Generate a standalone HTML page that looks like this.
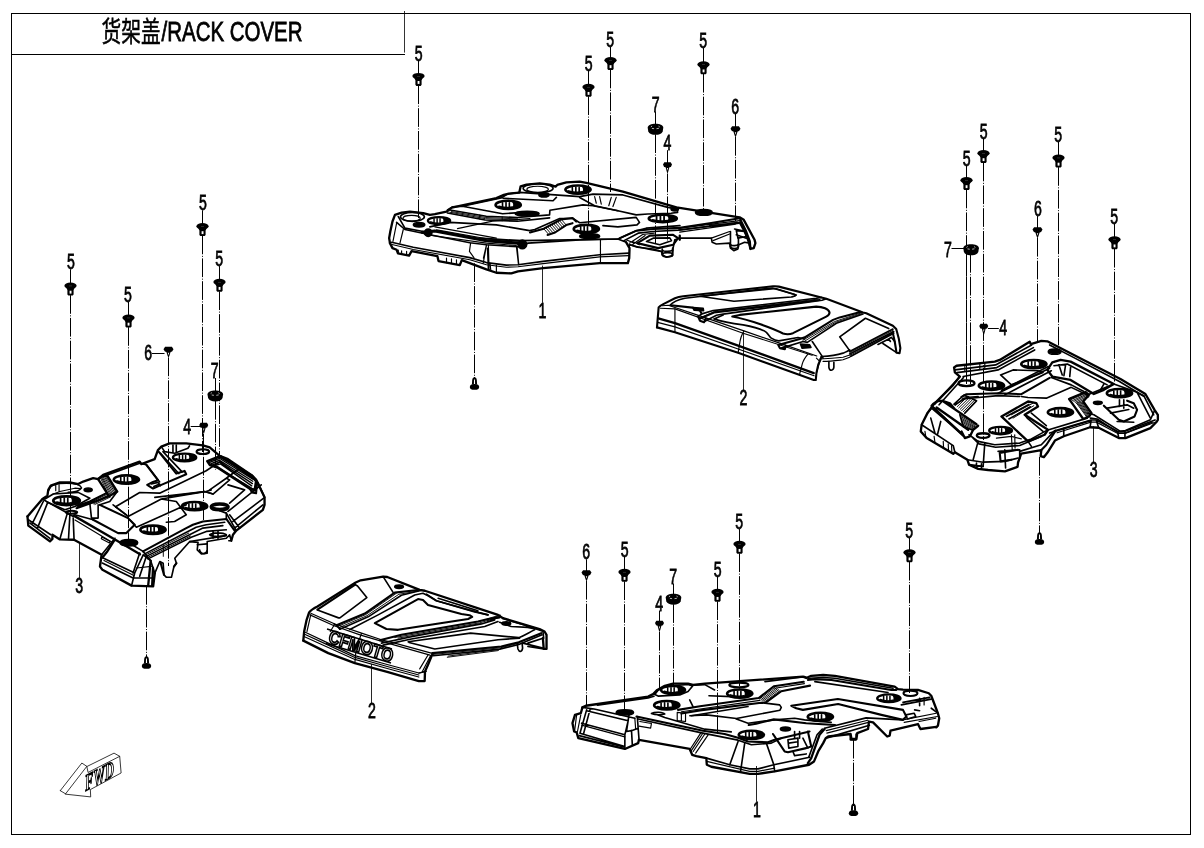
<!DOCTYPE html>
<html><head><meta charset="utf-8"><title>RACK COVER</title>
<style>
html,body{margin:0;padding:0;background:#fff;}
body{width:1204px;height:848px;overflow:hidden;font-family:"Liberation Sans",sans-serif;}
svg{display:block;position:absolute;left:0;top:0;will-change:transform;}
svg text{font-family:"Liberation Sans",sans-serif;}
.o{fill:none;stroke:#000;stroke-linejoin:round;stroke-linecap:round;}
</style></head><body>
<svg width="1204" height="848" viewBox="0 0 1204 848">
<rect x="0" y="0" width="1204" height="848" fill="#fff"/>

<defs>
<g id="b5"><ellipse cx="0" cy="3.3" rx="6.1" ry="3.2" fill="#000"/><path d="M-4.6,4.5 L4.6,4.5 L3.1,7.5 L3.1,12 L2.2,13.1 L-2.2,13.1 L-3.1,12 L-3.1,7.5 Z" fill="#000"/><rect x="-0.9" y="8.2" width="1.9" height="2.9" fill="#fff"/><rect x="-1.5" y="3.2" width="3" height="0.5" fill="#555"/></g>
<g id="s4"><path d="M-3.2,0.2 L3.2,0.2 L4.5,2.4 L3.4,4.8 L1.9,5.2 L0.9,9 L0,12 L-0.9,9 L-1.9,5.2 L-3.4,4.8 L-4.5,2.4 Z" fill="#000"/><path d="M-0.6,6 L0.6,6 L0,8.5 Z" fill="#fff"/></g>
<g id="s6"><path d="M-3.4,0.2 L3.4,0.2 L5,2.6 L3.6,5 L2.1,5.4 L1,9 L0,11.4 L-1,9 L-2.1,5.4 L-3.6,5 L-5,2.6 Z" fill="#000"/><path d="M-0.7,6.2 L0.7,6.2 L0,8.6 Z" fill="#fff"/></g>
<g id="n7"><path d="M-7.8,4 C-7.8,1.4 -4,0 0,0 C4,0 7.8,1.4 7.8,4 L7.2,7.6 C6.4,9.9 3.5,11 0,11 C-3.5,11 -6.4,9.9 -7.2,7.6 Z" fill="#000"/><path d="M-4.6,3.1 L-3.4,2.2 M3,2.3 L4.3,3.2 M-3.6,4.6 L-1.4,4.9 M1,4.9 L3.4,4.5" stroke="#fff" stroke-width="0.7" fill="none"/></g>
<g id="su"><path d="M0,0 C1.3,0.4 2.2,1.6 2.3,3 L2.6,7.4 L-2.6,7.4 L-2.3,3 C-2.2,1.6 -1.3,0.4 0,0 Z" fill="#000"/><ellipse cx="0" cy="9.9" rx="4.7" ry="2.9" fill="#000"/><path d="M-0.45,2.6 L0.45,2.6 L0.6,7 L-0.6,7 Z" fill="#fff"/></g>
</defs>

<g fill="none" stroke="#000" stroke-width="1.1" shape-rendering="crispEdges">
<rect x="11.5" y="13.5" width="1179" height="821"/>
<path d="M11.5,54.5 H405"/>
</g>
<path d="M404.5,11 V52.6" stroke="#000" stroke-width="0.8" fill="none"/>
<text transform="translate(101.50,42.40) scale(0.705,1)" font-size="28" fill="#000" stroke="#000" stroke-width="0.5" style="font-family:'Liberation Sans','Noto Sans CJK SC',sans-serif">货架盖</text>
<text transform="translate(161.52,41.40) scale(0.731,1)" font-size="28" stroke="#000" stroke-width="0.8">/RACK COVER</text>
<text transform="translate(418.60,60.55) scale(0.66,1)" font-size="21.4" text-anchor="middle" stroke="#000" stroke-width="0.75">5</text>
<path d="M418.50,60.40 V73.80" stroke="#000" stroke-width="1.00" fill="none"/>
<use href="#b5" x="418.50" y="72.80"/>
<path d="M418.50,85.40 V224.00" stroke="#000" stroke-width="1" stroke-dasharray="18.7 1.55 1 1.55" stroke-dashoffset="0.0" fill="none"/>
<text transform="translate(588.75,70.70) scale(0.66,1)" font-size="21.4" text-anchor="middle" stroke="#000" stroke-width="0.75">5</text>
<path d="M588.50,70.55 V84.75" stroke="#000" stroke-width="1.00" fill="none"/>
<use href="#b5" x="588.50" y="83.75"/>
<path d="M588.50,96.35 V238.00" stroke="#000" stroke-width="1" stroke-dasharray="18.7 1.55 1 1.55" stroke-dashoffset="0.0" fill="none"/>
<text transform="translate(610.25,46.95) scale(0.66,1)" font-size="21.4" text-anchor="middle" stroke="#000" stroke-width="0.75">5</text>
<path d="M610.50,46.80 V58.00" stroke="#000" stroke-width="1.00" fill="none"/>
<use href="#b5" x="610.50" y="57.00"/>
<path d="M610.50,69.60 V192.00" stroke="#000" stroke-width="1" stroke-dasharray="18.7 1.55 1 1.55" stroke-dashoffset="0.0" fill="none"/>
<text transform="translate(655.80,112.15) scale(0.66,1)" font-size="21.4" text-anchor="middle" stroke="#000" stroke-width="0.75">7</text>
<path d="M655.50,112.00 V124.80" stroke="#000" stroke-width="1.00" fill="none"/>
<use href="#n7" x="655.50" y="123.80"/>
<path d="M655.50,134.30 V243.00" stroke="#000" stroke-width="1" stroke-dasharray="18.7 1.55 1 1.55" stroke-dashoffset="0.0" fill="none"/>
<text transform="translate(667.40,150.35) scale(0.66,1)" font-size="21.4" text-anchor="middle" stroke="#000" stroke-width="0.75">4</text>
<path d="M667.50,150.20 V163.10" stroke="#000" stroke-width="1.00" fill="none"/>
<use href="#s4" x="667.50" y="162.10"/>
<path d="M667.50,173.60 V241.00" stroke="#000" stroke-width="1" stroke-dasharray="18.7 1.55 1 1.55" stroke-dashoffset="0.0" fill="none"/>
<text transform="translate(703.20,47.95) scale(0.66,1)" font-size="21.4" text-anchor="middle" stroke="#000" stroke-width="0.75">5</text>
<path d="M703.50,47.80 V62.25" stroke="#000" stroke-width="1.00" fill="none"/>
<use href="#b5" x="703.50" y="61.25"/>
<path d="M703.50,73.85 V210.00" stroke="#000" stroke-width="1" stroke-dasharray="18.7 1.55 1 1.55" stroke-dashoffset="0.0" fill="none"/>
<text transform="translate(735.10,113.95) scale(0.66,1)" font-size="21.4" text-anchor="middle" stroke="#000" stroke-width="0.75">6</text>
<path d="M735.50,113.80 V127.10" stroke="#000" stroke-width="1.00" fill="none"/>
<use href="#s6" x="735.50" y="126.10"/>
<path d="M735.50,137.00 V221.00" stroke="#000" stroke-width="1" stroke-dasharray="18.7 1.55 1 1.55" stroke-dashoffset="0.0" fill="none"/>
<text transform="translate(983.60,138.70) scale(0.66,1)" font-size="21.4" text-anchor="middle" stroke="#000" stroke-width="0.75">5</text>
<path d="M983.50,138.55 V151.00" stroke="#000" stroke-width="1.00" fill="none"/>
<use href="#b5" x="983.50" y="150.00"/>
<path d="M983.50,162.60 V440.00" stroke="#000" stroke-width="1" stroke-dasharray="18.7 1.55 1 1.55" stroke-dashoffset="0.0" fill="none"/>
<text transform="translate(966.70,165.70) scale(0.66,1)" font-size="21.4" text-anchor="middle" stroke="#000" stroke-width="0.75">5</text>
<path d="M966.50,165.55 V178.00" stroke="#000" stroke-width="1.00" fill="none"/>
<use href="#b5" x="966.50" y="177.00"/>
<path d="M966.50,189.60 V384.00" stroke="#000" stroke-width="1" stroke-dasharray="18.7 1.55 1 1.55" stroke-dashoffset="0.0" fill="none"/>
<text transform="translate(1058.10,141.95) scale(0.66,1)" font-size="21.4" text-anchor="middle" stroke="#000" stroke-width="0.75">5</text>
<path d="M1058.50,141.80 V155.50" stroke="#000" stroke-width="1.00" fill="none"/>
<use href="#b5" x="1058.50" y="154.50"/>
<path d="M1058.50,167.10 V350.00" stroke="#000" stroke-width="1" stroke-dasharray="18.7 1.55 1 1.55" stroke-dashoffset="0.0" fill="none"/>
<text transform="translate(1037.90,216.20) scale(0.66,1)" font-size="21.4" text-anchor="middle" stroke="#000" stroke-width="0.75">6</text>
<path d="M1037.50,216.05 V228.00" stroke="#000" stroke-width="1.00" fill="none"/>
<use href="#s6" x="1037.50" y="227.00"/>
<path d="M1037.50,237.90 V342.00" stroke="#000" stroke-width="1" stroke-dasharray="18.7 1.55 1 1.55" stroke-dashoffset="0.0" fill="none"/>
<text transform="translate(1114.10,223.70) scale(0.66,1)" font-size="21.4" text-anchor="middle" stroke="#000" stroke-width="0.75">5</text>
<path d="M1114.50,223.55 V237.25" stroke="#000" stroke-width="1.00" fill="none"/>
<use href="#b5" x="1114.50" y="236.25"/>
<path d="M1114.50,248.85 V383.00" stroke="#000" stroke-width="1" stroke-dasharray="18.7 1.55 1 1.55" stroke-dashoffset="0.0" fill="none"/>
<text transform="translate(70.90,269.45) scale(0.66,1)" font-size="21.4" text-anchor="middle" stroke="#000" stroke-width="0.75">5</text>
<path d="M70.50,269.30 V283.50" stroke="#000" stroke-width="1.00" fill="none"/>
<use href="#b5" x="70.50" y="282.50"/>
<path d="M70.50,295.10 V513.00" stroke="#000" stroke-width="1" stroke-dasharray="18.7 1.55 1 1.55" stroke-dashoffset="0.0" fill="none"/>
<text transform="translate(128.00,301.95) scale(0.66,1)" font-size="21.4" text-anchor="middle" stroke="#000" stroke-width="0.75">5</text>
<path d="M128.50,301.80 V315.50" stroke="#000" stroke-width="1.00" fill="none"/>
<use href="#b5" x="128.50" y="314.50"/>
<path d="M128.50,327.10 V541.00" stroke="#000" stroke-width="1" stroke-dasharray="18.7 1.55 1 1.55" stroke-dashoffset="0.0" fill="none"/>
<text transform="translate(202.90,210.45) scale(0.66,1)" font-size="21.4" text-anchor="middle" stroke="#000" stroke-width="0.75">5</text>
<path d="M202.50,210.30 V224.00" stroke="#000" stroke-width="1.00" fill="none"/>
<use href="#b5" x="202.50" y="223.00"/>
<path d="M202.50,235.60 V452.00" stroke="#000" stroke-width="1" stroke-dasharray="18.7 1.55 1 1.55" stroke-dashoffset="0.0" fill="none"/>
<text transform="translate(219.30,266.20) scale(0.66,1)" font-size="21.4" text-anchor="middle" stroke="#000" stroke-width="0.75">5</text>
<path d="M219.50,266.05 V279.75" stroke="#000" stroke-width="1.00" fill="none"/>
<use href="#b5" x="219.50" y="278.75"/>
<path d="M219.50,291.35 V458.00" stroke="#000" stroke-width="1" stroke-dasharray="18.7 1.55 1 1.55" stroke-dashoffset="0.0" fill="none"/>
<text transform="translate(586.25,559.45) scale(0.66,1)" font-size="21.4" text-anchor="middle" stroke="#000" stroke-width="0.75">6</text>
<path d="M586.50,559.30 V571.00" stroke="#000" stroke-width="1.00" fill="none"/>
<use href="#s6" x="586.50" y="570.00"/>
<path d="M586.50,580.90 V706.00" stroke="#000" stroke-width="1" stroke-dasharray="18.7 1.55 1 1.55" stroke-dashoffset="0.0" fill="none"/>
<text transform="translate(624.80,556.70) scale(0.66,1)" font-size="21.4" text-anchor="middle" stroke="#000" stroke-width="0.75">5</text>
<path d="M624.50,556.55 V569.75" stroke="#000" stroke-width="1.00" fill="none"/>
<use href="#b5" x="624.50" y="568.75"/>
<path d="M624.50,581.35 V710.00" stroke="#000" stroke-width="1" stroke-dasharray="18.7 1.55 1 1.55" stroke-dashoffset="0.0" fill="none"/>
<text transform="translate(673.20,583.70) scale(0.66,1)" font-size="21.4" text-anchor="middle" stroke="#000" stroke-width="0.75">7</text>
<path d="M673.50,583.55 V594.75" stroke="#000" stroke-width="1.00" fill="none"/>
<use href="#n7" x="673.50" y="593.75"/>
<path d="M673.50,604.25 V686.00" stroke="#000" stroke-width="1" stroke-dasharray="18.7 1.55 1 1.55" stroke-dashoffset="0.0" fill="none"/>
<text transform="translate(659.10,610.70) scale(0.66,1)" font-size="21.4" text-anchor="middle" stroke="#000" stroke-width="0.75">4</text>
<path d="M659.50,610.55 V621.50" stroke="#000" stroke-width="1.00" fill="none"/>
<use href="#s4" x="659.50" y="620.50"/>
<path d="M659.50,632.00 V690.00" stroke="#000" stroke-width="1" stroke-dasharray="18.7 1.55 1 1.55" stroke-dashoffset="0.0" fill="none"/>
<text transform="translate(717.75,576.95) scale(0.66,1)" font-size="21.4" text-anchor="middle" stroke="#000" stroke-width="0.75">5</text>
<path d="M717.50,576.80 V589.75" stroke="#000" stroke-width="1.00" fill="none"/>
<use href="#b5" x="717.50" y="588.75"/>
<path d="M717.50,601.35 V735.00" stroke="#000" stroke-width="1" stroke-dasharray="18.7 1.55 1 1.55" stroke-dashoffset="0.0" fill="none"/>
<text transform="translate(739.30,529.20) scale(0.66,1)" font-size="21.4" text-anchor="middle" stroke="#000" stroke-width="0.75">5</text>
<path d="M739.50,529.05 V541.75" stroke="#000" stroke-width="1.00" fill="none"/>
<use href="#b5" x="739.50" y="540.75"/>
<path d="M739.50,553.35 V690.00" stroke="#000" stroke-width="1" stroke-dasharray="18.7 1.55 1 1.55" stroke-dashoffset="0.0" fill="none"/>
<text transform="translate(909.30,537.95) scale(0.66,1)" font-size="21.4" text-anchor="middle" stroke="#000" stroke-width="0.75">5</text>
<path d="M909.50,537.80 V550.25" stroke="#000" stroke-width="1.00" fill="none"/>
<use href="#b5" x="909.50" y="549.25"/>
<path d="M909.50,561.85 V693.00" stroke="#000" stroke-width="1" stroke-dasharray="18.7 1.55 1 1.55" stroke-dashoffset="0.0" fill="none"/>
<text transform="translate(948.00,257.45) scale(0.66,1)" font-size="21.4" text-anchor="middle" stroke="#000" stroke-width="0.75">7</text>
<path d="M951.50,248.50 H965.00" stroke="#000" stroke-width="1.00" fill="none"/>
<use href="#n7" x="971.1" y="244.3"/>
<path d="M966.50,254.00 V384.00" stroke="#000" stroke-width="1" stroke-dasharray="18.7 1.55 1 1.55" stroke-dashoffset="0.0" fill="none"/>
<path d="M970.50,254.00 V384.00" stroke="#000" stroke-width="1" stroke-dasharray="18.7 1.55 1 1.55" stroke-dashoffset="0.0" fill="none"/>
<text transform="translate(1003.25,334.85) scale(0.66,1)" font-size="21.4" text-anchor="middle" stroke="#000" stroke-width="0.75">4</text>
<path d="M988.00,328.50 H998.80" stroke="#000" stroke-width="1.00" fill="none"/>
<use href="#s4" x="983.75" y="323.6"/>
<text transform="translate(148.25,359.95) scale(0.66,1)" font-size="21.4" text-anchor="middle" stroke="#000" stroke-width="0.75">6</text>
<path d="M152.00,353.50 H164.50" stroke="#000" stroke-width="1.00" fill="none"/>
<use href="#s6" x="168.5" y="346.6"/>
<path d="M168.50,357.50 V566.00" stroke="#000" stroke-width="1" stroke-dasharray="18.7 1.55 1 1.55" stroke-dashoffset="0.0" fill="none"/>
<text transform="translate(214.75,378.20) scale(0.66,1)" font-size="21.4" text-anchor="middle" stroke="#000" stroke-width="0.75">7</text>
<path d="M215.50,378.00 V391.00" stroke="#000" stroke-width="1.00" fill="none"/>
<use href="#n7" x="215.3" y="390.4"/>
<path d="M215.50,401.00 V470.00" stroke="#000" stroke-width="1" stroke-dasharray="18.7 1.55 1 1.55" stroke-dashoffset="0.0" fill="none"/>
<text transform="translate(187.25,433.70) scale(0.66,1)" font-size="21.4" text-anchor="middle" stroke="#000" stroke-width="0.75">4</text>
<path d="M190.70,426.50 H200.00" stroke="#000" stroke-width="1.00" fill="none"/>
<use href="#s4" x="203.75" y="422.6"/>
<path d="M203.50,434.00 V520.00" stroke="#000" stroke-width="1" stroke-dasharray="18.7 1.55 1 1.55" stroke-dashoffset="0.0" fill="none"/>
<text transform="translate(542.40,318.00) scale(0.66,1)" font-size="21.4" text-anchor="middle" stroke="#000" stroke-width="0.75">1</text>
<path d="M542.50,265.60 V302.80" stroke="#000" stroke-width="0.85" fill="none"/>
<text transform="translate(743.50,405.45) scale(0.66,1)" font-size="21.4" text-anchor="middle" stroke="#000" stroke-width="0.75">2</text>
<path d="M743.50,332.50 V390.80" stroke="#000" stroke-width="0.85" fill="none"/>
<text transform="translate(371.90,717.95) scale(0.66,1)" font-size="21.4" text-anchor="middle" stroke="#000" stroke-width="0.75">2</text>
<path d="M371.50,664.00 V703.30" stroke="#000" stroke-width="0.85" fill="none"/>
<text transform="translate(756.90,817.00) scale(0.66,1)" font-size="21.4" text-anchor="middle" stroke="#000" stroke-width="0.75">1</text>
<path d="M756.50,766.00 V801.80" stroke="#000" stroke-width="0.85" fill="none"/>
<text transform="translate(1093.80,477.45) scale(0.66,1)" font-size="21.4" text-anchor="middle" stroke="#000" stroke-width="0.75">3</text>
<path d="M1093.50,426.30 V462.80" stroke="#000" stroke-width="0.85" fill="none"/>
<text transform="translate(79.30,592.95) scale(0.66,1)" font-size="21.4" text-anchor="middle" stroke="#000" stroke-width="0.75">3</text>
<path d="M79.50,542.50 V578.30" stroke="#000" stroke-width="0.85" fill="none"/>
<use href="#su" x="474.50" y="377.00"/>
<path d="M474.50,263.30 V378.00" stroke="#000" stroke-width="1" stroke-dasharray="18.7 1.55 1 1.55" stroke-dashoffset="0.0" fill="none"/>
<use href="#su" x="146.50" y="656.00"/>
<path d="M146.50,586.00 V657.00" stroke="#000" stroke-width="1" stroke-dasharray="18.7 1.55 1 1.55" stroke-dashoffset="0.0" fill="none"/>
<use href="#su" x="1039.50" y="532.00"/>
<path d="M1039.50,457.00 V533.00" stroke="#000" stroke-width="1" stroke-dasharray="18.7 1.55 1 1.55" stroke-dashoffset="0.0" fill="none"/>
<use href="#su" x="853.50" y="803.30"/>
<path d="M853.50,739.80 V804.30" stroke="#000" stroke-width="1" stroke-dasharray="18.7 1.55 1 1.55" stroke-dashoffset="0.0" fill="none"/>
<!-- p1bot.svg -->
<g transform="translate(565,665) scale(0.16625)" class="o" stroke-width="9.8">
<!-- silhouette back -->
<path stroke-width="14.0" d="M105,255 L125,245 L500,190 L530,175 L555,150 L600,125 L650,112 L740,112 L770,120 L841,112 L1431,70 L1451,78 L1481,65 L1553,60 L1623,65 L1983,130 L2003,145 L2033,148 L2123,150 L2188,170 L2203,185 L2243,290 L2251,320 L2243,365 L2233,375"/>
<!-- left block -->
<path stroke-width="14.0" d="M105,255 L95,290 L60,300 L45,350 L55,400 L70,405 L80,440 L360,505 L440,470 L445,450"/>
<path d="M130,270 L90,410 L360,490 M105,255 L175,265 L420,320 M130,275 L380,335 M150,270 L112,412 M100,350 L360,420 M85,425 L360,495 M360,420 L360,505 M385,300 L370,400 L400,395 L440,380 L435,310 M400,395 L405,480 M440,380 L445,445 M380,335 L360,420"/>
<path stroke-width="7.0" d="M95,300 L75,400 M70,300 L58,395 M100,362 L360,432 M420,320 L425,385"/>
<!-- bottom edge -->
<path stroke-width="14.0" d="M445,450 L750,505 L765,540 L790,548 L850,560 L853,600 L880,612 L1111,655 L1161,655 L1261,640 L1468,600 L1498,580 L1523,520 L1553,470 L1568,440 L1583,430 L1718,415 L1723,445 L1753,445 L1758,410 L1823,385 L1828,340 L1853,345 L1938,430 L1953,425 L1958,395 L2123,355 L2138,385 L2233,372"/>
<!-- front face -->
<path stroke-width="12.6" d="M430,310 L830,395 L960,415 L1040,438 L1101,460 L1221,465 L1261,450 L1471,400"/>
<path d="M440,325 L822,408 L1041,452 L1121,480 L1241,470 L1301,440"/>
<path stroke-width="7.0" d="M450,340 L520,352 L515,380 L445,368 M816,410 L751,510 M841,415 L771,520 M861,420 L786,530 M828,412 L760,515"/>
<path d="M1041,460 L991,600 M1081,470 L1056,640 M1211,470 L1256,600 L1261,640"/>
<path d="M851,560 L991,600 L1111,625 L1161,625 L1256,600 L1471,555"/>
<path stroke-width="7.0" d="M853,580 L1111,640 L1161,640 L1261,620"/>
<!-- top surface H -->
<path d="M540,178 L560,152 L610,128 L740,117 L768,126 L740,160 L690,180 L560,187 Z"/>
<use href="#sh" x="650" y="150" transform="translate(650,150) scale(0.95) translate(-650,-150)"/>
<use href="#sh" x="612" y="242"/>
<ellipse cx="360" cy="285" rx="52" ry="16" fill="#000"/>
<path d="M520,292 C540,280 590,282 600,295 C585,300 545,302 520,292 Z"/>
<path d="M195,242 L500,198 L535,188 M560,300 L600,316 L840,386 L1000,402"/>
<path d="M760,305 L1101,250 M750,210 L770,250"/>
<path stroke-width="7.0" d="M675,285 L725,290 L725,340 L675,335 Z M700,288 V338"/>
<path d="M772,122 L841,118 L900,150 M866,185 L1001,190"/>
<!-- I view -->
<ellipse cx="1046" cy="120" rx="58" ry="14" stroke-width="12.6"/>
<use href="#sh" x="1051" y="172"/>
<path stroke-width="12.6" d="M680,270 L812,248 L1165,199 L1256,128 L1308,120 L1436,101 M700,292 L812,273 L1180,227 L1203,229 L1301,158 L1338,150 L1474,124"/>
<path stroke-width="5.6" d="M1165,199 L1256,128 M1171,204 L1264,133 M1178,209 L1271,138 M1184,214 L1278,143 M1190,219 L1286,148 M1197,224 L1294,153 M1203,229 L1301,158"/>
<path stroke-width="7.0" d="M700,281 L1172,213 M1262,140 L1440,112"/>
<path d="M1203,229 L1291,240 L1301,255 L1293,272 L1031,322 L851,300 L751,305"/>
<path d="M1031,325 L1101,350 L1261,330 L1381,320 L1441,330 L1601,345"/>
<path stroke-width="12.6" d="M1361,245 L1641,205 L2033,270 L2053,310 L2033,330 L1903,300 L1643,235 L1431,270 L1391,260 Z"/>
<use href="#sh" x="1536" y="312"/>
<use href="#sh" x="1121" y="420"/>
<ellipse cx="1326" cy="385" rx="30" ry="11" fill="#000"/>
<path stroke-width="12.6" d="M1105,361 L1150,353 L1256,327 L1451,350 L1624,361"/>
<!-- latch -->
<path stroke-width="12.6" d="M1251,415 L1321,520 L1341,525 L1451,500 L1481,490 L1461,400"/>
<path d="M1341,450 L1401,440 L1401,490 L1346,500 Z M1346,470 L1400,462 M1381,400 V440 M1411,400 V440 M1431,440 L1461,500 M1371,520 L1381,545 L1451,535"/>
<!-- notch wall -->
<path stroke-width="14.0" d="M1561,385 L1531,420 L1481,560 L1461,590"/>
<path d="M1548,385 L1516,420 L1466,555"/>
<path d="M1561,380 L1811,318 L2033,330 M1571,440 L1831,362"/>
<path stroke-width="7.0" d="M1571,395 L1821,332 M1575,410 L1825,345"/>
<path d="M1716,420 L1716,450 L1751,450 L1751,415"/>
<!-- back rail -->
<path stroke-width="12.6" d="M1461,90 L1501,85 L1603,90 L1963,150 L1993,150"/>
<path d="M1503,100 L1943,165 M1471,80 L1553,75 L1623,80 L1973,140"/>
<path d="M1203,100 L1443,70 L1473,85"/>
<!-- J region -->
<use href="#sh" x="1948" y="200" transform="translate(1948,200) scale(0.92) translate(-1948,-200)"/>
<ellipse cx="2078" cy="170" rx="42" ry="16" stroke-width="12.6"/>
<path d="M2033,225 L2193,195 M2023,240 L2203,205 M2203,260 L2243,290 M2133,200 V245 M2103,270 L2133,275 M2050,300 L2100,290 L2110,310 L2060,325 Z"/>
<path stroke-width="7.0" d="M2033,330 L2233,290 M2040,345 L2240,310 M2160,195 V240 M2130,340 L2230,320"/>
</g>

<!-- p1top.svg -->
<defs>
<g id="sh"><ellipse cx="0" cy="0" rx="76" ry="25" fill="#fff" stroke="#000" stroke-width="15.4"/><path d="M14,-25 C56,-21 76,-9 76,0 C76,9 56,21 14,25 C36,12 36,-12 14,-25 Z" fill="#000" stroke="none"/><path d="M-34,-13 V13 M-13,-14 V14 M7,-13 V13" stroke="#000" stroke-width="9.8" fill="none"/><path d="M-56,8 C-34,17 6,18 26,13" stroke="#000" stroke-width="9.8" fill="none"/></g>
</defs>
<g transform="translate(380,165) scale(0.16625)" class="o" stroke-width="9.8">
<!-- silhouette top/back -->
<path stroke-width="14.0" d="M60,470 L55,440 L62,400 L75,340 L90,300 L130,287 L180,281 L260,289 L300,300 L330,296 L400,281 L432,256 L480,246 L700,199 L745,180 L775,172 L838,166 L846,128 L881,118 L961,110 L1021,118 L1056,130 L1066,120 L1121,105 L1201,100 L1241,108 L1461,160 L1783,255 L2163,315 L2188,330 L2253,450 L2258,470 L2248,500 L2228,505 L2223,480"/>
<!-- bottom/front -->
<path stroke-width="14.0" d="M60,470 L75,500 L100,510 L108,532 L175,545 L190,518 L345,548 L352,578 L480,602 L492,572 L640,628 L700,648 L790,652 L830,640 L981,620 L1321,590 L1491,590 L1499,560 L1501,500 L1481,465"/>
<path d="M1498,490 L1503,480 L1543,490 L1633,510 L1693,520 L1698,540 L1723,555 L1758,545 L1763,500 L1773,450 L1803,440 L1993,440 L1998,465 L2023,475 L2103,470 L2108,500 L2128,515 L2153,505 L2158,480 L2193,465 L2223,470 L2228,500"/>
<!-- front face lines -->
<path stroke-width="19.6" d="M255,405 L330,397 L640,455 L830,470"/>
<path stroke-width="7.0" d="M270,418 L640,470 L820,484 M340,390 L650,445 L830,458"/>
<circle cx="290" cy="407" r="22" fill="#000"/><circle cx="856" cy="478" r="26" fill="#000"/>
<path d="M100,345 L150,388 L300,420 L540,468 L640,480 L830,492 L891,470 L1201,450 L1431,445 L1481,465"/>
<path d="M70,465 L200,495 L540,557 L640,587 L760,602 L830,600 L981,580 L1321,540 L1496,530"/>
<path stroke-width="7.0" d="M72,478 L200,508 L540,570 L640,600 L760,615 L830,612 L981,593 L1321,553 L1496,545"/>
<path stroke-width="7.0" d="M140,388 L120,470 M100,350 L78,460 M545,470 L538,520 L565,557 M640,482 L622,560 M652,482 L656,628 M825,495 L835,600 M700,602 L700,647 M662,592 L666,630 M641,480 L621,590 M646,500 L651,630 M821,495 L833,600 M1326,450 L1326,590"/>
<path stroke-width="7.0" d="M110,512 V530 M130,516 V536 M160,520 V542 M400,560 V588 M430,565 V592 M460,570 V598"/>
<!-- top surface left -->
<path d="M110,310 L150,380 L260,400"/>
<ellipse cx="195" cy="312" rx="72" ry="27"/><ellipse cx="190" cy="320" rx="52" ry="17" stroke-width="7.0"/>
<ellipse cx="235" cy="360" rx="34" ry="13" fill="#000"/>
<use href="#sh" x="355" y="335" transform="translate(355,335) scale(0.88) translate(-355,-335)"/>
<path d="M406,271 L436,252 L496,248 L735,196 M496,248 L737,293 L902,282 M421,271 L639,308 L827,316 L1020,300 L1022,272 L1221,240 L1281,245 L1431,275 M406,289 L632,331 L827,338 L1020,318"/>
<path stroke-width="5.6" d="M430,280 L636,316 L827,324 M420,284 L634,323 L827,331 M600,300 V326 M735,312 V336"/>
<path stroke-width="7.0" d="M330,372 L700,440 M466,383 L677,338 L902,323"/>
<path d="M300,372 L420,345 L700,360 L900,395 L931,388 L1081,322 L1161,322 L1201,347 L1541,315 L1561,345 L1546,360 L1431,372 L1341,365"/>
<!-- hatched ramp -->
<path stroke-width="12.6" d="M902,406 L985,383 L1090,327 L1158,319 L1180,340 M1008,421 L1053,406 L1120,361 L1158,350"/>
<path stroke-width="5.6" d="M985,383 L1015,418 M997,377 L1027,412 M1008,371 L1038,405 M1020,364 L1050,399 M1032,358 L1062,393 M1043,352 L1073,386 M1055,346 L1085,380 M1067,339 L1097,374 M1078,333 L1108,367 M1090,327 L1120,361"/>
<!-- holes -->
<use href="#sh" x="771" y="240"/>
<ellipse cx="885" cy="293" rx="72" ry="14" fill="#000"/>
<ellipse cx="951" cy="140" rx="90" ry="27"/><ellipse cx="948" cy="146" rx="65" ry="18" stroke-width="7.0"/>
<ellipse cx="986" cy="180" rx="30" ry="12" fill="#000"/>
<use href="#sh" x="1191" y="148"/>
<use href="#sh" x="1241" y="385"/>
<ellipse cx="1261" cy="428" rx="60" ry="14" fill="#000"/>
<use href="#sh" x="1701" y="322" transform="translate(1701,322) scale(1.1,0.9) translate(-1701,-322)"/>
<ellipse cx="1948" cy="285" rx="50" ry="17" fill="#000"/>
<ellipse cx="1773" cy="265" rx="22" ry="11" fill="#000"/>
<!-- plateau lines -->
<path d="M736,195 L766,175 L841,165 L1201,190 L1281,175 L1461,180 L1731,255 L1788,265 L1790,285 L1751,290 L1611,295 L1541,300 L1431,275 L1291,245 L1201,195"/>
<path d="M741,200 L1041,215 L1061,195"/>
<path stroke-width="7.0" d="M1291,190 L1301,230 M1321,190 L1331,235 M1391,195 L1376,245 M1421,195 L1401,250"/>
<path d="M601,440 L851,455 L1431,445 L1541,395 L1601,380 L1804,365"/>
<!-- right tray -->
<path stroke-width="12.6" d="M1443,440 L1543,395 L1643,385 L1803,378 L1983,350 L2163,320"/>
<path d="M1468,455 L1553,410 L1643,400 L1793,392 L2133,350"/>
<path d="M1503,480 L1548,495 L1643,505 L1693,520"/>
<path stroke-width="12.6" d="M1548,470 L1623,425 L1763,420 L1793,440 L1763,480 L1673,500 Z"/>
<path d="M1603,460 L1643,440 L1743,438 L1753,455 L1683,480 Z"/>
<path stroke-width="7.0" d="M1500,470 L1580,418 L1650,410 M1520,478 L1595,424 M1803,380 L2163,335 M1803,392 L2150,345 M1803,404 L2140,356 M1983,365 L2173,345 M2000,372 L2160,352 M1520,460 L1560,480 M1480,450 L1530,470"/>
<path stroke-width="14.0" d="M1803,425 V450"/>
<path d="M1698,505 V540 M1760,500 V545"/>
<ellipse cx="1729" cy="540" rx="31" ry="13"/>
<path d="M1698,512 C1705,522 1750,522 1760,512"/>
<!-- right end -->
<path stroke-width="12.6" d="M2163,318 L2203,400 L2225,460 L2228,500 M2163,345 L2203,420 L2223,480"/>
<path d="M2133,385 L2203,400 M2143,420 L2203,440 M2143,395 L2193,400 L2203,430 L2153,440 Z"/>
<path d="M2108,400 V490 M2156,440 V480"/>
<path d="M2108,490 C2110,508 2150,508 2156,488 M2108,478 C2115,488 2150,488 2156,476"/>
<path stroke-width="7.0" d="M1993,440 L2103,400 M2003,455 L2103,415"/>
</g>

<!-- p2bot.svg -->
<g transform="translate(295,565) scale(0.16625)" class="o" stroke-width="9.8">
<!-- silhouette -->
<path stroke-width="14.0" d="M50,455 L55,400 L70,330 L85,285 C95,272 115,260 135,250 L365,105 L395,92 L530,70 L555,72 L750,150 L781,155 L1221,300 L1251,320 L1471,385 L1501,400 L1513,420 L1513,505 L1496,505 L1491,440"/>
<path stroke-width="14.0" d="M50,455 L200,530 L360,590 L560,645 L745,698 L780,698 L782,640 L800,600 L829,530"/>
<!-- front face -->
<path stroke-width="7.0" d="M95,290 L240,355 L400,410 L520,450 L600,470 L820,530"/>
<path stroke-width="7.0" d="M90,300 L235,365 L395,422 L600,482 L812,542"/>
<path stroke-width="7.0" d="M95,298 L72,400 M62,405 L200,470 L360,545 L560,600 L745,650 L790,640 M58,416 L200,482 L360,556 L560,612 L745,662 M54,430 L200,496 L360,568 L560,624 L745,674"/>
<path stroke-width="7.0" d="M238,358 L212,400 M400,412 L368,500 L360,590 M750,625 L801,540 M766,640 L816,545 M782,640 L745,650"/>
<!-- top surface left -->
<path stroke-width="12.6" d="M135,268 L362,118"/>
<path d="M362,118 L376,126 L432,196 L270,318 L262,318 L135,270"/>
<path d="M530,70 L590,165"/>
<ellipse cx="626" cy="131" rx="26" ry="10" fill="#000"/>
<!-- ridge 1 -->
<path stroke-width="12.6" d="M250,362 L420,292 L600,166 L740,150"/>
<path d="M270,386 L440,312 L640,182 L762,152"/>
<path stroke-width="5.6" d="M256,370 L426,298 L610,170 M262,378 L433,305 L625,176 L745,156"/>
<path d="M235,355 L250,362 L270,386"/>
<!-- central panel -->
<path d="M330,388 L500,300 L720,180 L770,170 L800,185 L850,215 L1081,282 L1161,300"/>
<path stroke-width="12.6" d="M480,350 L740,205 L770,210 L800,240 L1001,295 L1050,302 L1066,312 L1041,325 L620,390 L550,385 Z"/>
<path d="M791,175 L851,215 L1081,280 L1161,300 M861,200 L1100,275"/>
<!-- ridge 2 -->
<path stroke-width="12.6" d="M510,452 L640,420 L1101,340 L1161,325 L1231,315"/>
<path d="M520,470 L700,432 L1121,355 L1201,330 M530,482 L700,445 L1141,370 L1221,340"/>
<path stroke-width="5.6" d="M600,436 L1111,348 L1190,325 M620,440 L1120,352"/>
<path d="M1170,320 L1235,300 L1231,315 L1160,340 Z" stroke-width="5.6"/>
<path stroke-width="5.6" d="M1180,322 L1225,306 M1175,330 L1228,311"/>
<ellipse cx="1271" cy="352" rx="26" ry="10" fill="#000"/>
<!-- right panel -->
<path d="M681,462 L1056,410 L1346,437 C1381,425 1401,410 1441,390"/>
<path d="M686,466 L841,505 L1221,450 L1351,440"/>
<path d="M1251,322 L1451,382 M1231,345 L1300,370 L1400,375 L1445,385"/>
<!-- rear rail -->
<path stroke-width="12.6" d="M826,530 L1241,490 L1346,465 L1481,410"/>
<path d="M831,546 L1231,506 L1346,478 L1486,420"/>
<path stroke-width="5.6" d="M830,538 L1236,498 L1346,471 M916,555 L1221,515 L1241,500 M921,548 L1226,508"/>
<!-- right end -->
<path d="M1401,470 L1491,440 M1401,490 L1496,505 M1371,470 L1491,500 M1451,385 L1491,398 L1496,440"/>
<path d="M1336,470 L1341,505 C1345,515 1350,520 1356,520 C1364,518 1368,510 1369,500 L1366,470"/>
</g>
<text transform="matrix(0.80,0.25,-0.12,1,328.3,642.6)" font-size="18.5" font-weight="bold" font-style="italic" fill="#fff" stroke="#000" stroke-width="1.8" style="font-family:'Liberation Sans',sans-serif">CFMOTO</text>
<path d="M327,629 L392,649 M326,643.5 L391,663" stroke="#000" stroke-width="1.4" fill="none"/>

<!-- p2top.svg -->
<g transform="translate(650,275) scale(0.16625)" class="o" stroke-width="9.8">
<!-- silhouette -->
<path stroke-width="12.6" d="M42,315 L52,195 C60,185 70,180 80,175 L150,140 C170,132 185,130 200,128 L740,68 C755,66 765,68 775,70 L1031,135 L1061,143 L1281,225 L1301,230 L1461,305 L1481,325 L1496,380 L1506,440 L1501,470 L1483,468 L1472,400 L1460,345"/>
<path stroke-width="12.6" d="M42,315 L150,345 L530,468 L985,632 L997,632 L1001,590 L1012,540 L1025,510 L1031,492"/>
<!-- front face -->
<path stroke-width="7.0" d="M75,185 L110,182 L300,246 L565,336 L780,410 L1003,487"/>
<path stroke-width="7.0" d="M62,200 L150,204 L560,350 L975,483"/>
<path stroke-width="14.0" d="M55,262 L150,290 L530,425 L985,590"/>
<path stroke-width="7.0" d="M46,285 L150,312 L530,445 L987,606"/>
<path stroke-width="7.0" d="M150,204 L150,345 M565,338 C550,360 542,390 538,420 L530,468 M951,475 C930,500 920,520 916,535 L901,592 L901,600"/>
<!-- left panel -->
<path d="M120,182 C140,160 165,150 210,140 L735,78 L870,117"/>
<path stroke-width="12.6" d="M125,182 L255,196 L300,214 L310,232"/>
<path d="M258,196 L320,200 L322,214 L265,212 Z" fill="#000"/>
<path d="M300,128 L715,85 C730,82 745,80 760,83 L880,120 C875,128 860,130 850,132 L505,158 Z"/>
<!-- ridge 1 -->
<path d="M292,248 L312,234 L380,214 L1000,140 L1031,135"/>
<path stroke-width="12.6" d="M300,262 L385,226 L1020,150"/>
<path d="M330,278 L400,242 L440,235 L1035,152 L1061,143"/>
<path stroke-width="12.6" d="M290,250 L300,275 L325,284 L336,262"/>
<path stroke-width="5.6" d="M320,250 L390,220 L1010,145"/>
<!-- central panel -->
<path stroke-width="12.6" d="M495,250 L540,240 L1000,190 C1040,190 1075,205 1080,225 C1080,240 1070,245 1060,250 L860,350 C840,358 820,358 800,352 C740,320 600,270 495,250 Z"/>
<path d="M385,264 L440,240 M385,264 C430,280 480,290 560,300 C640,315 680,330 700,345 C715,360 720,372 730,380 C745,390 760,395 775,396 L890,376 L930,385"/>
<!-- ridge 2 -->
<path stroke-width="12.6" d="M776,420 L901,385 L931,375 L1101,270 L1141,255 L1266,222"/>
<path d="M791,440 L921,400 L946,405 L1121,290 L1281,235"/>
<path stroke-width="5.6" d="M920,392 L1110,280 L1270,228 M930,398 L1115,285 L1275,232"/>
<path stroke-width="12.6" d="M771,420 L781,440 L811,446 L816,425"/>
<path d="M905,415 L960,420 L968,435 L915,440 Z" fill="#000"/>
<!-- right face -->
<path d="M976,400 L1031,482 L1041,500"/>
<path d="M1031,490 C1080,488 1130,480 1161,470 C1180,462 1195,455 1201,450"/>
<path stroke-width="7.0" d="M1021,505 C1080,502 1130,498 1161,495 L1206,480 M1041,520 C1090,518 1140,512 1161,510 L1201,495"/>
<path d="M1141,372 L1296,260 L1436,322 M1141,372 L1201,455"/>
<path d="M1201,460 L1461,325 M1201,475 L1466,340 M1206,490 L1466,350"/>
<path stroke-width="5.6" d="M1201,467 L1463,332 M1203,483 L1466,345"/>
<!-- right end underside -->
<path d="M1371,418 L1436,385 L1451,375 L1472,400 M1401,412 L1481,465 M1436,385 L1446,400"/>
<!-- hook -->
<path d="M1076,520 L1076,555 C1078,568 1085,573 1091,573 C1098,572 1105,565 1106,555 L1106,525"/>
<path stroke-width="7.0" d="M1001,500 L1021,520 L1001,590"/>
</g>

<!-- p3left.svg -->
<g transform="translate(20,435) scale(0.16625)" class="o" stroke-width="9.8">
<!-- silhouette -->
<path stroke-width="14.0" d="M45,490 L135,385 L165,365 L170,330 L185,305 L240,285 L300,285 L350,295 L380,280 L440,260 L470,265 L500,240 L720,160 L730,175 L810,145 L830,90 L850,70 L900,50 L1000,50 L1100,62 L1141,75 L1201,125 L1251,145 L1391,240 L1421,270 L1471,375 L1471,420 L1461,450 L1301,575 L1281,600 L1271,636"/>
<path stroke-width="14.0" d="M45,490 L50,545 L180,640 L195,625 L195,600 L240,628 L325,630 L491,720 L481,791 L496,811 L671,906 L801,911 L811,831"/>
<path d="M811,831 L841,761 L861,771 L866,841 L881,856 L911,856 L926,791 L941,771 L931,741 L1021,641 L1071,646 L1066,691 L1091,716 L1126,711 L1126,641 L1241,621 L1261,601 L1271,636 L1256,636"/>
<!-- left block -->
<path d="M135,385 L160,400 L285,470 L320,490 M165,410 L105,560 M140,400 L75,530 M50,510 L185,600 M60,530 L180,622 M285,470 L240,625 M320,500 L325,625 M300,480 L292,622"/>
<!-- boss left -->
<path d="M175,330 C180,300 230,290 280,290 C330,290 365,300 370,318 C360,335 330,345 290,345"/>
<path stroke-width="7.0" d="M215,300 V335 M235,298 V338 M200,355 L240,340 L330,320 L365,322"/>
<path d="M150,385 L200,355 L350,345 L420,380 L330,430 L270,450 L165,405"/>
<use href="#sh" x="280" y="395" transform="translate(280,395) scale(1.05) translate(-280,-395)"/>
<ellipse cx="410" cy="330" rx="24" ry="11" fill="#000"/>
<ellipse cx="310" cy="465" rx="34" ry="9" stroke-width="12.6"/>
<!-- hatched bar 1 -->
<path stroke-width="14.0" d="M470,265 L500,245 L525,245 L585,340 L535,368 Z"/>
<path stroke-width="5.6" d="M485,260 L535,365 M491,258 L542,361 M496,256 L549,358 M502,254 L556,354 M508,251 L564,351 M514,249 L571,347 M519,247 L578,344 M525,245 L585,340"/>
<path stroke-width="12.6" d="M535,368 L420,412 L340,440 M520,350 L420,400 L345,425"/>
<path stroke-width="5.6" d="M420,400 L520,350 M428,404 L526,356 M435,409 L532,361 M442,414 L539,366 M450,418 L545,372"/>
<path d="M585,340 L540,400 L480,420"/>
<!-- holes -->
<use href="#sh" x="640" y="268"/>
<use href="#sh" x="990" y="135" transform="translate(990,135) scale(0.92) translate(-990,-135)"/>
<use href="#sh" x="1050" y="428"/>
<use href="#sh" x="800" y="570"/>
<ellipse cx="655" cy="648" rx="52" ry="18" stroke-width="11.2" fill="#000"/>
<ellipse cx="1100" cy="100" rx="38" ry="14" stroke-width="12.6"/>
<ellipse cx="1201" cy="432" rx="50" ry="17" stroke-width="22.4"/>
<!-- panel & bracket -->
<path d="M500,250 L720,170 L760,178 L840,282 M575,432 L720,346 L840,350 L1120,215 L1203,160"/>
<path stroke-width="12.6" d="M830,95 L850,120 L940,232 L990,216 L1000,236 L850,300 L800,322 L765,300 L800,282 L830,272 L760,180"/>
<path d="M860,100 L975,222 M845,110 L955,232 M790,295 L830,285 L845,305 M805,310 L840,295"/>
<path d="M850,70 L870,100 L930,110 L1010,80 L1020,65 M920,60 V108 M940,60 V105"/>
<!-- center -->
<path d="M420,410 L430,500 L470,500 L470,420"/>
<path stroke-width="12.6" d="M480,420 L650,500 L690,540 L640,590 L590,590 L440,510"/>
<path d="M575,432 L650,490 L850,385 L1120,340 L1150,330 M660,510 L700,555 L1000,420 M850,385 L940,400 L1000,480 L930,520 L880,525"/>
<path d="M560,420 L640,480 M440,510 L330,480"/>
<path d="M811,375 L1111,340 L1161,355 L1261,270 L1241,260 L1141,330 M1241,260 L1321,200"/>
<!-- front-right rim -->
<path stroke-width="12.6" d="M740,700 L1000,560 L1040,540 L1100,520 L1241,505 L1291,575"/>
<path d="M750,715 L1010,580 L1060,555 L1120,540 L1231,525 M760,730 L1020,600 L1100,560 L1220,545 M770,745 L1030,615 L1121,580 L1241,570"/>
<path stroke-width="5.6" d="M755,722 L1015,590 M765,738 L1025,608 M862,665 V730"/>
<path d="M655,648 L740,700 L786,756 M720,710 L680,830 M760,730 L720,850"/>
<!-- center-front block -->
<path d="M571,621 L491,720 M500,740 L690,830 L741,721 M495,770 L680,860 L800,860 M690,830 L671,906 M741,721 L786,756 L811,831"/>
<path stroke-width="7.0" d="M505,755 L685,845 M700,800 L790,790 M492,613 L541,639 L538,650 L489,624 Z"/>
<path stroke-width="14.0" d="M323,485 L571,628 L722,718 M571,628 L526,699 L496,737"/>
<path stroke-width="7.0" d="M331,511 L556,647"/>
<path stroke-width="14.0" d="M786,756 L771,906 M800,800 L795,905"/>
<!-- latch bits -->
<path d="M1021,641 L1241,605 M1066,660 L1126,655 M1080,690 C1085,720 1120,720 1126,695"/>
<path d="M1141,600 C1160,585 1220,585 1241,600 C1220,615 1160,615 1141,600 M1161,580 V620 M1191,578 V622"/>
<path stroke-width="12.6" d="M846,770 L866,841 M926,791 L941,771"/>
<!-- right hatched bar -->
<path stroke-width="16.8" d="M1128,158 L1203,128 L1398,248 L1421,278 L1413,331 L1383,323 L1188,195 L1143,180 Z"/>
<path stroke-width="8.4" d="M1141,165 L1200,140 L1401,265 M1151,172 L1200,152 L1400,278 M1161,178 L1203,163 L1398,292 M1171,184 L1206,174 L1394,306 M1180,190 L1390,318"/>
<path stroke-width="12.6" d="M1383,323 L1395,345 L1420,350 L1425,300"/>
<path d="M1211,135 L1241,150 L1421,275"/>
<!-- right face -->
<path d="M1241,470 L1301,575 M1251,460 L1451,300 M1291,560 L1461,420 M1281,520 L1466,380 M1431,285 L1471,375 M1261,480 L1321,560 M1251,300 L1351,330 M1351,330 L1261,410"/>
<path d="M901,370 L1111,340 M1111,340 L1161,355 M1241,505 L1241,470 L1201,455"/>
</g>

<!-- p3right.svg -->
<g transform="translate(905,335) scale(0.16625)" class="o" stroke-width="9.8">
<!-- silhouette -->
<path stroke-width="14.0" d="M295,195 L310,185 L540,160 L570,150 L750,40 L757,55 L820,35 L856,38 L1016,120 L1296,265 L1446,355 L1501,450 L1521,480 L1521,510 L1511,525 L1476,560 L1326,620 L1286,620 L1165,558 L1113,555 L955,609 L902,635 L857,707 L835,735 L816,729 L820,692 L699,714 L680,767 L677,793 L601,820 L500,812 L440,805 L385,780 L375,750 L300,705 L290,715 L130,620 L95,580 L100,540 L135,470 L170,420 L290,300 L330,250 L300,225 Z"/>
<path d="M870,60 L1016,136 L1290,280 L1436,368"/>
<!-- back-left rail -->
<path d="M300,210 L545,180 L762,60 M312,226 L552,196 L772,76 M350,250 L560,210 L780,90"/>
<path stroke-width="7.0" d="M360,180 V215 M450,170 V205 M480,168 V202"/>
<path d="M330,250 L180,415 M352,256 L205,420"/>
<ellipse cx="370" cy="290" rx="48" ry="17" stroke-width="14.0"/>
<!-- holes -->
<use href="#sh" x="520" y="305"/>
<use href="#sh" x="775" y="175"/>
<use href="#sh" x="935" y="465"/>
<use href="#sh" x="575" y="575" transform="translate(575,575) scale(0.9) translate(-575,-575)"/>
<use href="#sh" x="1290" y="350"/>
<ellipse cx="900" cy="100" rx="38" ry="16" fill="#000"/>
<ellipse cx="470" cy="605" rx="38" ry="14" stroke-width="14.0"/>
<ellipse cx="1160" cy="408" rx="26" ry="9" fill="#000"/>
<!-- panel recess -->
<path d="M575,240 L650,210 L800,215 L830,225 L640,300 Z"/>
<!-- raised tray -->
<path stroke-width="14.0" d="M856,210 L886,165 L936,150 L996,160 L1256,295 L1196,330 L1136,355 L996,270 L886,250 Z"/>
<path d="M896,185 L976,175 L1216,300 M926,180 L946,240 M966,180 L956,245 M996,195 L991,250 M1196,295 L1176,330"/>
<!-- ridges -->
<path stroke-width="12.6" d="M340,372 L370,356 L560,350 L700,356 L870,258"/>
<path d="M560,350 L870,200 M580,332 L862,190 M600,360 L880,215 M700,370 L740,376 L850,380 L1000,315 L1100,362"/>
<path d="M345,385 L560,365 L690,370 M880,255 L1000,300 L1076,340"/>
<!-- left hatched bar -->
<path stroke-width="14.0" d="M160,426 L355,610 M190,436 L380,570 M160,426 C170,405 200,395 225,396 L270,411 L300,446 M225,396 L430,536 M340,580 L360,620 L390,610 L410,570 L440,546"/>
<path d="M175,440 L350,600 M300,420 L370,376 L440,370 M295,416 L355,361 L430,396 L360,470 M330,480 L350,550 L405,572"/>
<path stroke-width="5.6" d="M295,416 L355,361 M304,424 L366,366 M314,431 L376,371 M323,439 L387,376 M332,447 L398,381 M341,455 L409,386 M351,462 L419,391 M360,470 L430,396"/>
<path stroke-width="5.6" d="M330,480 L430,536 M333,489 L426,541 M336,499 L423,546 M339,508 L419,551 M341,517 L416,555 M344,526 L412,560 M347,536 L409,565 M350,545 L405,570"/>
<!-- front-center recess -->
<path stroke-width="14.0" d="M580,490 L740,400 L790,410 L800,430 L720,480 L860,570 L840,600 L740,640 Z"/>
<path d="M610,490 L745,418 M625,505 L755,432 M720,480 L735,500 L830,580 M760,470 L850,545 M740,640 L760,670"/>
<path stroke-width="5.6" d="M640,480 L770,410 M650,500 L775,425"/>
<!-- right hatched bar -->
<path stroke-width="14.0" d="M987,385 L1012,420 L1072,505 L1107,490 M992,383 L1087,343 L1107,360 L1072,400 L1122,470 L1107,490"/>
<path stroke-width="5.6" d="M992,383 L1087,343 M1000,388 L1091,349 M1008,394 L1095,355 M1016,399 L1099,360 M1024,405 L1103,366 M1032,410 L1107,372"/>
<path stroke-width="5.6" d="M1032,410 L1092,492 M1038,409 L1096,489 M1043,407 L1101,486 M1049,406 L1105,483 M1055,404 L1109,479 M1061,403 L1113,476 M1066,401 L1118,473 M1072,400 L1122,470"/>
<!-- right end -->
<path d="M1100,360 L1256,295 L1396,345 L1436,365 M1100,470 L1136,480 L1296,580 L1326,575 L1476,510 L1501,455"/>
<path d="M1116,500 L1156,505 L1286,590 L1326,590 L1486,525 M1396,345 L1476,500 M1436,365 L1496,480"/>
<path stroke-width="12.6" d="M1196,425 L1286,510 L1316,520 L1381,490 L1396,450 L1376,410 L1336,395"/>
<path d="M1216,440 L1336,420 L1376,440 M1236,470 L1346,448 M1290,390 V430 M1316,390 V440 M1276,520 L1376,525"/>
<!-- front rim & lower -->
<path d="M385,600 L440,640 L540,660 L690,650 L760,625 L850,575 L1096,500"/>
<path d="M410,620 L445,655 L545,675 L690,665 L820,610 M870,590 L1116,515"/>
<path d="M135,470 L160,440 L345,600 M155,500 L180,590 M215,520 L195,600 M100,540 L290,665 L300,705"/>
<path stroke-width="7.0" d="M120,580 L125,612 M175,610 L180,645 M230,640 L232,680 M260,655 L262,700 M280,665 L282,710"/>
<path d="M440,640 L410,750 M480,650 L470,790 M600,690 L605,800 M560,700 L690,690 L690,745"/>
<path stroke-width="12.6" d="M570,710 L680,690 M570,710 L575,760 L640,750"/>
<path d="M375,750 L470,765 L600,760 L680,740 M385,780 L470,790 M430,770 V800 M460,775 V805"/>
<path stroke-width="12.6" d="M906,575 L850,662 L820,692"/>
<path d="M906,575 L1120,511 L1150,511 L1278,579 L1323,579 L1504,511 M1120,511 L1113,555 M1150,511 L1165,558 M1278,579 L1286,620 M1323,579 L1323,620 M955,560 L955,609"/>
<path stroke-width="7.0" d="M915,588 L1118,524 L1152,524 L1280,592 L1323,592 L1500,526"/>
<path d="M690,700 L820,660 L900,575"/>
<path stroke-width="7.0" d="M640,600 L645,690 M660,600 L662,680 M550,620 L640,610 L700,625"/>
</g>

<!-- zfwd.svg -->
<g transform="translate(50,745) scale(0.07077)" fill="none" stroke="#000" stroke-width="11" stroke-linejoin="round" stroke-linecap="round">
<path d="M220,690 L520,302 L538,388 L985,160 L1005,395 L570,630 L575,728 Z"/>
<path d="M145,645 L450,255 L520,302 M145,645 L220,690 M530,300 L905,115 L985,160"/>
</g>
<text transform="matrix(0.56,-0.3,0.07,1,85.6,790.9)" font-size="22.5" font-weight="bold" font-style="italic" fill="#fff" stroke="#000" stroke-width="1.4" style="font-family:'Liberation Serif',serif">FWD</text>

</svg></body></html>
